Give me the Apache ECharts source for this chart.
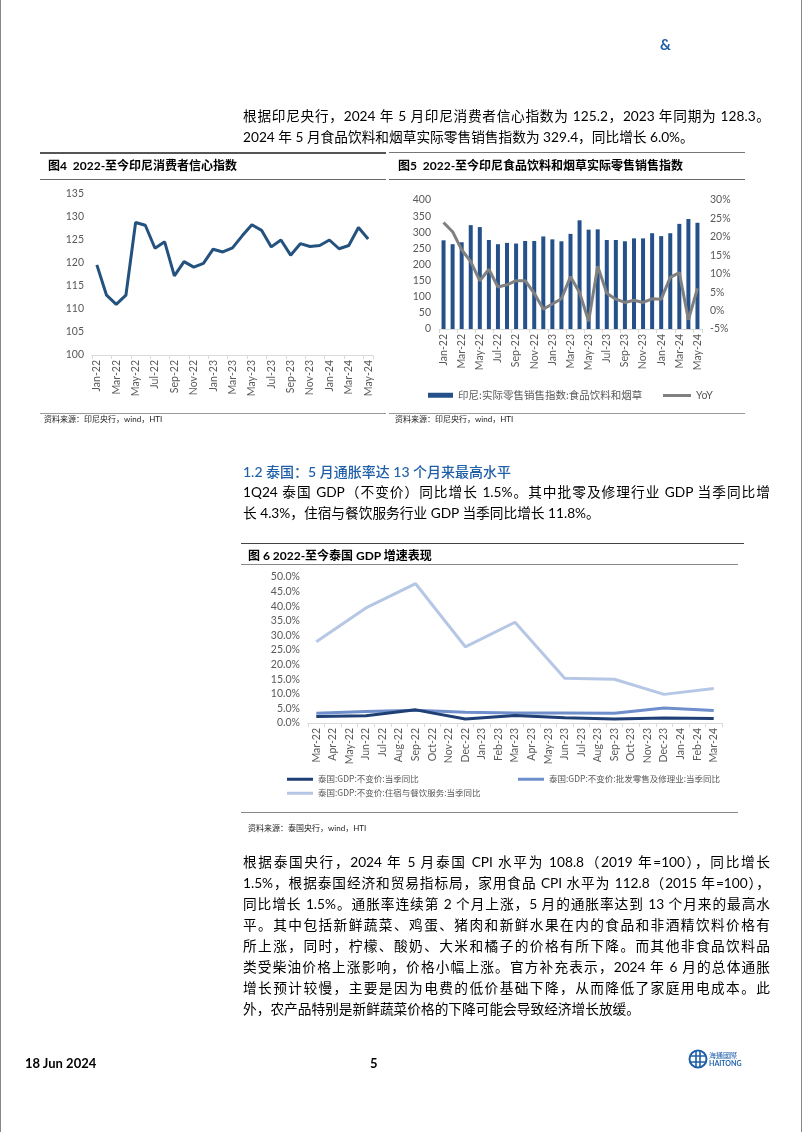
<!DOCTYPE html>
<html><head><meta charset="utf-8">
<script src="https://cdn.jsdelivr.net/npm/echarts@6/dist/echarts.min.js"></script>
<style>
body{margin:0;background:#fff;}
#page{position:relative;width:802px;height:1132px;overflow:hidden;font-family:Lato,"Noto Sans CJK SC",sans-serif;color:#000;background:#fff;}
#chart{position:absolute;left:0;top:0;width:802px;height:1132px;}
.t{position:absolute;white-space:nowrap;}
.p{position:absolute;left:243px;width:527px;font-size:13.7px;line-height:21px;height:21px;white-space:nowrap;}
.j{text-align:justify;text-align-last:justify;}
.hl{position:absolute;height:0;}
.ttl{position:absolute;font-size:12px;font-weight:bold;line-height:16px;white-space:nowrap;}
.src{position:absolute;font-size:8px;line-height:10px;color:#222;white-space:nowrap;}
</style></head>
<body>
<div id="page">
<div id="chart"></div>
<div class="hl" style="left:0;top:0;width:0;height:1132px;border-left:1px solid #888;"></div>
<div class="hl" style="left:801px;top:0;width:0;height:1132px;border-left:1px solid #888;"></div>
<div class="t" style="left:660px;top:35px;font-size:15px;font-weight:bold;color:#1F5FA8;">&amp;</div>

<div class="p j" style="top:105px;">根据印尼央行，2024 年 5 月印尼消费者信心指数为 125.2，2023 年同期为 128.3。</div>
<div class="p" style="top:126px;">2024 年 5 月食品饮料和烟草实际零售销售指数为 329.4，同比增长 6.0%。</div>

<div class="hl" style="left:40px;top:152px;width:346px;border-top:2px solid #555;"></div>
<div class="hl" style="left:389px;top:152px;width:356px;border-top:1px solid #777;"></div>
<div class="ttl" style="left:48px;top:158px;">图4&nbsp; 2022-至今印尼消费者信心指数</div>
<div class="ttl" style="left:398px;top:158px;">图5&nbsp; 2022-至今印尼食品饮料和烟草实际零售销售指数</div>
<div class="hl" style="left:40px;top:179px;width:346px;border-top:1px solid #666;"></div>
<div class="hl" style="left:389px;top:179px;width:356px;border-top:1px solid #666;"></div>
<div class="hl" style="left:40px;top:413px;width:346px;border-top:1px solid #999;"></div>
<div class="hl" style="left:389px;top:413px;width:356px;border-top:1px solid #999;"></div>
<div class="src" style="left:44px;top:414px;">资料来源：印尼央行，wind，HTI</div>
<div class="src" style="left:395px;top:414px;">资料来源：印尼央行，wind，HTI</div>

<div class="t" style="left:243px;top:461px;font-size:14px;color:#1F5FA8;font-weight:500;">1.2 泰国：5 月通胀率达 13 个月来最高水平</div>
<div class="p j" style="top:481px;">1Q24 泰国 GDP（不变价）同比增长 1.5%。其中批零及修理行业 GDP 当季同比增</div>
<div class="p" style="top:502px;">长 4.3%，住宿与餐饮服务行业 GDP 当季同比增长 11.8%。</div>

<div class="hl" style="left:241px;top:543px;width:503px;border-top:1px solid #444;"></div>
<div class="ttl" style="left:248px;top:548px;">图 6 2022-至今泰国 GDP 增速表现</div>
<div class="hl" style="left:241px;top:564px;width:497px;border-top:1px solid #888;"></div>
<div class="hl" style="left:241px;top:812px;width:497px;border-top:1px solid #888;"></div>
<div class="src" style="left:248px;top:823px;">资料来源：泰国央行，wind，HTI</div>

<div class="p j" style="top:851px;">根据泰国央行，2024 年 5 月泰国 CPI 水平为 108.8（2019 年=100），同比增长</div>
<div class="p j" style="top:872px;">1.5%，根据泰国经济和贸易指标局，家用食品 CPI 水平为 112.8（2015 年=100），</div>
<div class="p j" style="top:893px;">同比增长 1.5%。通胀率连续第 2 个月上涨，5 月的通胀率达到 13 个月来的最高水</div>
<div class="p j" style="top:914px;">平。其中包括新鲜蔬菜、鸡蛋、猪肉和新鲜水果在内的食品和非酒精饮料价格有</div>
<div class="p j" style="top:935px;">所上涨，同时，柠檬、酸奶、大米和橘子的价格有所下降。而其他非食品饮料品</div>
<div class="p j" style="top:956px;">类受柴油价格上涨影响，价格小幅上涨。官方补充表示，2024 年 6 月的总体通胀</div>
<div class="p j" style="top:977px;">增长预计较慢，主要是因为电费的低价基础下降，从而降低了家庭用电成本。此</div>
<div class="p" style="top:998px;">外，农产品特别是新鲜蔬菜价格的下降可能会导致经济增长放缓。</div>

<div class="t" style="left:25px;top:1055px;font-size:13px;font-weight:bold;">18 Jun 2024</div>
<div class="t" style="left:370px;top:1055px;font-size:13px;font-weight:bold;">5</div>
<svg style="position:absolute;left:688px;top:1048px;" width="60" height="22" viewBox="0 0 60 22">
  <circle cx="10" cy="11" r="8.5" fill="none" stroke="#1F5FA8" stroke-width="2"/>
  <path d="M3 8 H17 M3 14 H17 M8 3 V19 M12 3 V19" stroke="#1F5FA8" stroke-width="1.6" fill="none"/>
  <text x="21" y="10" font-size="7" fill="#1F5FA8" font-family="Noto Sans CJK TC">海通國際</text>
  <text x="21" y="18" font-size="7" fill="#1F5FA8" font-weight="bold" font-family="Lato">HAITONG</text>
</svg>
</div>
<script>
// ---- Figure 4: Indonesia consumer confidence ----
const idMonths = ["Jan-22","Feb-22","Mar-22","Apr-22","May-22","Jun-22","Jul-22","Aug-22","Sep-22","Oct-22","Nov-22","Dec-22","Jan-23","Feb-23","Mar-23","Apr-23","May-23","Jun-23","Jul-23","Aug-23","Sep-23","Oct-23","Nov-23","Dec-23","Jan-24","Feb-24","Mar-24","Apr-24","May-24"];
const consumerConfidence = [119.6,113.0,111.0,113.0,128.8,128.2,123.2,124.6,117.2,120.3,119.1,119.9,123.0,122.4,123.3,125.9,128.3,127.1,123.5,125.0,121.7,124.2,123.6,123.8,125.0,123.1,123.8,127.7,125.2];
// ---- Figure 5: Indonesia real retail sales index, food, beverage & tobacco ----
const retailIndex = [275,263,269,322,316,276,263,267,265,273,273,287,278,272,295,337,308,309,276,276,272,281,281,297,288,297,326,341,329.4];
const retailYoY = [23.9,21.4,16.5,13.3,8.1,11.2,6.4,7.0,8.1,8.1,4.7,0.4,1.8,3.2,9.2,4.9,-2.9,12.0,4.7,3.1,2.2,2.8,2.2,3.2,3.1,9.0,10.3,-2.5,6.0];
const retailName = "印尼:实际零售销售指数:食品饮料和烟草";
const yoyName = "YoY";
// ---- Figure 6: Thailand GDP growth ----
const thMonths = ["Mar-22","Apr-22","May-22","Jun-22","Jul-22","Aug-22","Sep-22","Oct-22","Nov-22","Dec-22","Jan-23","Feb-23","Mar-23","Apr-23","May-23","Jun-23","Jul-23","Aug-23","Sep-23","Oct-23","Nov-23","Dec-23","Jan-24","Feb-24","Mar-24"];
const thQuarters = ["Mar-22","Jun-22","Sep-22","Dec-22","Mar-23","Jun-23","Sep-23","Dec-23","Mar-24"];
const thGDP = [2.2,2.5,4.5,1.4,2.6,1.8,1.4,1.7,1.5];
const thWholesale = [3.3,3.9,4.4,3.7,3.4,3.4,3.3,5.1,4.3];
const thAccommodation = [27.8,39.4,47.7,26.1,34.5,15.3,15.0,9.8,11.8];
const thNames = ["泰国:GDP:不变价:当季同比","泰国:GDP:不变价:批发零售及修理业:当季同比","泰国:GDP:不变价:住宿与餐饮服务:当季同比"];

const toMonthly = vals => thMonths.map(m => { const i = thQuarters.indexOf(m); return i < 0 ? null : vals[i]; });

const lblFont = 'Lato';
const axisLbl = {color:'#595959', fontSize:10, fontFamily:lblFont};
const catAxis = (grid, data, interval, fs) => ({
  type:'category', gridIndex:grid, data:data, boundaryGap:true,
  axisLine:{lineStyle:{color:'#d9d9d9'}},
  axisTick:{show:true, length:4, lineStyle:{color:'#d9d9d9'}},
  axisLabel:Object.assign({}, axisLbl, {rotate:90, interval:interval, margin:5, fontSize:fs||10})
});
const valAxis = (grid, min, max, step, fmt, pos, fs) => ({
  type:'value', gridIndex:grid, min:min, max:max, interval:step, position:pos||'left',
  axisLine:{show:false}, axisTick:{show:false}, splitLine:{show:false},
  axisLabel:Object.assign({}, axisLbl, {formatter:fmt, margin:8, fontSize:fs||10})
});

const chart = echarts.init(document.getElementById('chart'), null, {renderer:'canvas'});
chart.setOption({
  animation:false,
  backgroundColor:'transparent',
  grid:[
    {left:92, top:194, width:281, height:161},
    {left:439, top:200, width:263, height:129},
    {left:308, top:577, width:414, height:146}
  ],
  xAxis:[
    catAxis(0, idMonths, 1, 10.5),
    catAxis(1, idMonths, 1, 10.5),
    catAxis(2, thMonths, 0, 10.5)
  ],
  yAxis:[
    valAxis(0, 100, 135, 5, v => v, 'left', 10.5),
    valAxis(1, 0, 400, 50, v => v, 'left', 10.5),
    valAxis(1, -5, 30, 5, v => v + '%', 'right', 10.5),
    valAxis(2, 0, 50, 5, v => v.toFixed(1) + '%', 'left', 10.5)
  ],
  legend:[
    {data:[retailName], left:428, top:390, padding:0, itemWidth:25, itemHeight:5, itemGap:6, icon:'rect',
     textStyle:{color:'#595959', fontSize:10.5, fontFamily:'Noto Sans CJK SC'}},
    {data:[yoyName], left:663, top:390, padding:0, itemWidth:28, itemHeight:3, icon:'rect',
     textStyle:{color:'#595959', fontSize:10.5, fontFamily:lblFont}},
    {data:[thNames[0]], left:287, top:775, padding:0, itemWidth:26, itemHeight:3, icon:'rect',
     textStyle:{color:'#595959', fontSize:8.5, fontFamily:'Noto Sans CJK SC'}},
    {data:[thNames[1]], left:518, top:775, padding:0, itemWidth:26, itemHeight:3, icon:'rect',
     textStyle:{color:'#595959', fontSize:8.5, fontFamily:'Noto Sans CJK SC'}},
    {data:[thNames[2]], left:287, top:789, padding:0, itemWidth:26, itemHeight:3, icon:'rect',
     textStyle:{color:'#595959', fontSize:8.5, fontFamily:'Noto Sans CJK SC'}}
  ],
  series:[
    {type:'line', name:'消费者信心指数', xAxisIndex:0, yAxisIndex:0, data:consumerConfidence,
     showSymbol:false, lineStyle:{color:'#24527F', width:3}, itemStyle:{color:'#24527F'}},
    {type:'bar', name:retailName, xAxisIndex:1, yAxisIndex:1, data:retailIndex, barWidth:4,
     itemStyle:{color:'#25518A'}},
    {type:'line', name:yoyName, xAxisIndex:1, yAxisIndex:2, data:retailYoY,
     showSymbol:false, lineStyle:{color:'#808080', width:3}, itemStyle:{color:'#808080'}},
    {type:'line', name:thNames[2], xAxisIndex:2, yAxisIndex:3, data:toMonthly(thAccommodation), connectNulls:true,
     showSymbol:false, z:2, lineStyle:{color:'#B6C7E6', width:3}, itemStyle:{color:'#B6C7E6'}},
    {type:'line', name:thNames[1], xAxisIndex:2, yAxisIndex:3, data:toMonthly(thWholesale), connectNulls:true,
     showSymbol:false, z:3, lineStyle:{color:'#6E8FCB', width:3}, itemStyle:{color:'#6E8FCB'}},
    {type:'line', name:thNames[0], xAxisIndex:2, yAxisIndex:3, data:toMonthly(thGDP), connectNulls:true,
     showSymbol:false, z:4, lineStyle:{color:'#1F3F75', width:3}, itemStyle:{color:'#1F3F75'}}
  ]
});
</script>
</body></html>
